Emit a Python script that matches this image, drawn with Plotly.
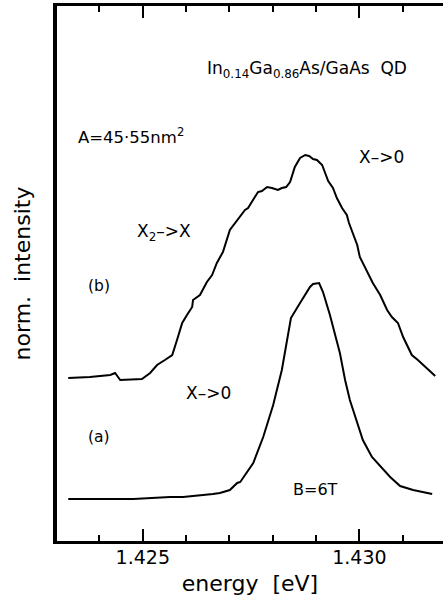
import plotly.graph_objects as go

# curve (b): B=0 spectrum, offset
energy_b = [1.42328, 1.42378, 1.42425, 1.42436, 1.42448, 1.42498, 1.42517, 1.42533, 1.42551, 1.42568,
            1.42579, 1.42591, 1.42602, 1.42614, 1.42616, 1.42632, 1.42648, 1.42660, 1.42671, 1.42685,
            1.42701, 1.42713, 1.42725, 1.42736, 1.42743, 1.42755, 1.42766, 1.42775, 1.42787, 1.42798,
            1.42812, 1.42821, 1.42831, 1.42840, 1.42847, 1.42851, 1.42863, 1.42875, 1.42884, 1.42893,
            1.42902, 1.42914, 1.42921, 1.42928, 1.42939, 1.42948, 1.42960, 1.42971, 1.42976, 1.42985,
            1.42995, 1.43001, 1.43008, 1.43020, 1.43031, 1.43048, 1.43064, 1.43075, 1.43089, 1.43101,
            1.43121, 1.43135, 1.43156, 1.43175]
intensity_b = [1.65, 1.66, 1.68, 1.70, 1.63, 1.64, 1.70, 1.78, 1.83, 1.88,
               2.03, 2.20, 2.28, 2.36, 2.43, 2.48, 2.61, 2.68, 2.80, 2.91,
               3.13, 3.20, 3.26, 3.33, 3.35, 3.43, 3.51, 3.52, 3.56, 3.55,
               3.53, 3.55, 3.56, 3.61, 3.70, 3.76, 3.85, 3.88, 3.87, 3.84,
               3.83, 3.78, 3.70, 3.62, 3.55, 3.45, 3.35, 3.28, 3.20, 3.10,
               2.98, 2.86, 2.80, 2.70, 2.60, 2.48, 2.33, 2.26, 2.20, 2.06,
               1.88, 1.83, 1.75, 1.67]

# curve (a): B=6T spectrum
energy_a = [1.42328, 1.42478, 1.42563, 1.42593, 1.42662, 1.42678, 1.42701, 1.42718, 1.42725, 1.42755,
            1.42778, 1.42801, 1.42821, 1.42842, 1.42863, 1.42886, 1.42893, 1.42907, 1.42916, 1.42932,
            1.42955, 1.42967, 1.42978, 1.42995, 1.43008, 1.43029, 1.43052, 1.43071, 1.43094, 1.43124,
            1.43168]
intensity_a = [0.44, 0.44, 0.46, 0.46, 0.49, 0.50, 0.53, 0.60, 0.61, 0.80,
               1.06, 1.38, 1.73, 2.25, 2.40, 2.56, 2.59, 2.60, 2.51, 2.28,
               1.90, 1.63, 1.43, 1.20, 1.03, 0.86, 0.75, 0.66, 0.57, 0.53,
               0.49]

x_range = [1.42302, 1.43193]
y_range = [0.02, 5.37]

labels = ["In<sub>0.14</sub>Ga<sub>0.86</sub>As/GaAs  QD", "A=45·55nm<sup>2</sup>", "X–>0",
          "X<sub>2</sub>–>X", "(b)", "X–>0", "(a)", "B=6T"]
label_x = [1.42878, 1.42346, 1.43050, 1.42549, 1.42399, 1.42651, 1.42399, 1.42899]
label_y = [4.74, 4.07, 3.86, 3.11, 2.57, 1.50, 1.06, 0.54]
label_anchor = ["center", "left", "center", "center", "center", "center", "center", "center"]
label_size = [17, 16.5, 17, 17, 15.5, 17, 15.5, 16]

FONT = "DejaVu Sans"

fig = go.Figure()
fig.add_trace(go.Scatter(x=energy_b, y=intensity_b, mode="lines",
                         line=dict(color="black", width=2), showlegend=False, hoverinfo="skip"))
fig.add_trace(go.Scatter(x=energy_a, y=intensity_a, mode="lines",
                         line=dict(color="black", width=2), showlegend=False, hoverinfo="skip"))

for t, x, y, a, s in zip(labels, label_x, label_y, label_anchor, label_size):
    fig.add_annotation(x=x, y=y, text=t, showarrow=False, xanchor=a, yanchor="middle",
                       font=dict(family=FONT, size=s, color="black"))

fig.update_layout(
    width=443, height=605,
    margin=dict(l=57, r=0, t=6, b=64),
    paper_bgcolor="white", plot_bgcolor="white",
    font=dict(family=FONT, color="black"),
    xaxis=dict(range=x_range, tick0=1.425, dtick=0.005, ticks="inside", ticklen=12,
               tickwidth=2, tickcolor="black", showline=True, linewidth=3, linecolor="black",
               mirror="ticks", showgrid=False, zeroline=False,
               minor=dict(dtick=0.001, tick0=1.425, ticks="inside", ticklen=6, tickwidth=2,
                          tickcolor="black", showgrid=False),
               tickformat=".3f",
               tickfont=dict(family=FONT, size=19, color="black"),
               ticklabelstandoff=-3,
               title=dict(text="energy  [eV]", font=dict(family=FONT, size=22, color="black"),
                          standoff=9),
               automargin=False),
    yaxis=dict(range=y_range, showline=True, linewidth=4, linecolor="black", ticks="",
               showticklabels=False, showgrid=False, zeroline=False,
               title=dict(text="norm.  intensity", font=dict(family=FONT, size=22, color="black"),
                          standoff=17),
               automargin=False),
)

fig.write_html("out.html", config={"displayModeBar": False},
               post_script="document.body.style.margin='0';document.body.style.overflow='hidden';")
